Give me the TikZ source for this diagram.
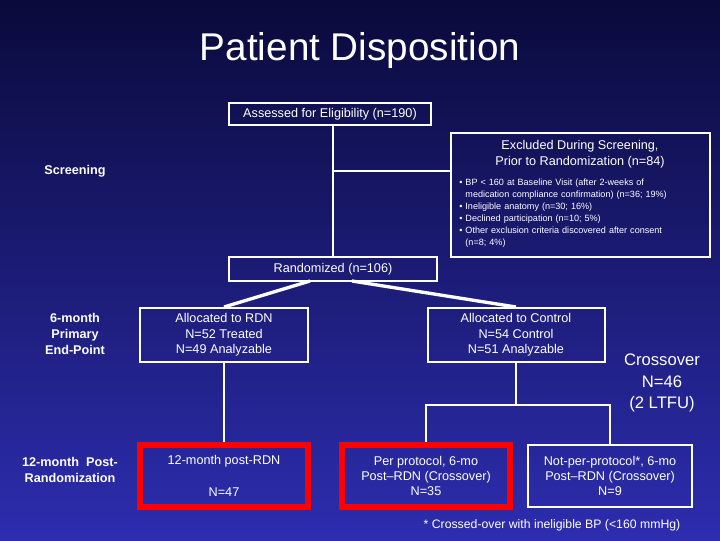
\documentclass[tikz,border=0pt]{standalone}
\usepackage{fontspec}
\setmainfont{Liberation Sans}
\begin{document}
\begin{tikzpicture}[x=0.75pt,y=-0.75pt,
  box/.style={draw=white,line width=1.5pt,text=white,align=center,inner sep=0pt,font=\fontsize{9.5}{11.5}\selectfont},
  redbox/.style={draw=red,line width=4.5pt,text=white,align=center,inner sep=0pt,font=\fontsize{9.5}{11.5}\selectfont},
  lbl/.style={text=white,align=center,font=\bfseries\fontsize{9.5}{12}\selectfont},
  ln/.style={draw=white,line width=1.2pt},
  tk/.style={draw=white,line width=2.5pt}]
\shade[top color={rgb,255:red,10;green,10;blue,60},bottom color={rgb,255:red,45;green,45;blue,175}] (0,0) rectangle (720,540);
\useasboundingbox (0,0) rectangle (720,540);
\node[text=white,font=\fontsize{29}{32}\selectfont] (title) at (360,50) {Patient Disposition};
\node[box,minimum width=202*0.75pt,minimum height=22*0.75pt] (ass) at (330,114) {Assessed for Eligibility (n=190)};
\node[box,minimum width=208*0.75pt,minimum height=24*0.75pt] (rand) at (333,269) {Randomized (n=106)};
\node[box,minimum width=259*0.75pt,minimum height=124*0.75pt] (exc) at (580,195) {};
\node[text=white,align=center,font=\fontsize{9.5}{12}\selectfont] (exct) at (580,154) {Excluded During Screening,\\Prior to Randomization (n=84)};
\node[text=white,anchor=north west,align=left,inner sep=0pt,font=\fontsize{6.8}{9}\selectfont,text width=178pt] (excl) at (459,179) {%
\textbullet\ BP \textless\ 160 at Baseline Visit (after 2-weeks of\\
\phantom{\textbullet\ }medication compliance confirmation) (n=36; 19\%)\\
\textbullet\ Ineligible anatomy (n=30; 16\%)\\
\textbullet\ Declined participation (n=10; 5\%)\\
\textbullet\ Other exclusion criteria discovered after consent\\
\phantom{\textbullet\ }(n=8; 4\%)};
\coordinate (j1) at (333,171);
\draw[ln,line width=2pt] (333,125) -- (rand.north);
\draw[ln,line width=2pt] (j1) -- (exc.west |- j1);
\node[lbl] (scr) at (75,171) {Screening};
\node[box,minimum width=168*0.75pt,minimum height=54*0.75pt] (rdn) at (224,335) {Allocated to RDN\\N=52 Treated\\N=49 Analyzable};
\node[box,minimum width=177*0.75pt,minimum height=54*0.75pt] (ctl) at (516,335) {Allocated to Control\\N=54 Control\\N=51 Analyzable};
\coordinate (r1) at (310,281);
\coordinate (r2) at (352,281);
\draw[tk] (r1) -- (rdn.north);
\draw[tk] (r2) -- (ctl.north);
\node[lbl] (six) at (75,334) {6-month\\Primary\\End-Point};
\node[lbl] (twelve) at (70,470) {12-month\ \ Post-\\Randomization};
\node[text=white,align=center,font=\fontsize{12.5}{16}\selectfont] (cross) at (662,383) {Crossover\\N=46\\(2 LTFU)};
\node[redbox,minimum width=168*0.75pt,minimum height=62*0.75pt] (r12) at (224,476) {12-month post-RDN\\[13pt]N=47};
\node[redbox,minimum width=168*0.75pt,minimum height=62*0.75pt] (pp) at (426,476) {Per protocol, 6-mo\\Post--RDN (Crossover)\\N=35};
\node[box,minimum width=164*0.75pt,minimum height=62*0.75pt] (npp) at (610,476) {Not-per-protocol*, 6-mo\\Post--RDN (Crossover)\\N=9};
\draw[ln] (rdn.south) -- (r12.north);
\coordinate (c1) at (516,405);
\coordinate (c2) at (426,405);
\coordinate (c3) at (610,405);
\draw[ln] (ctl.south) -- (c1);
\draw[ln] (pp.north) -- (c2) -- (c3) -- (npp.north);
\node[text=white,font=\fontsize{9.2}{11}\selectfont] (foot) at (552,525) {* Crossed-over with ineligible BP (\textless160 mmHg)};
\end{tikzpicture}
\end{document}
